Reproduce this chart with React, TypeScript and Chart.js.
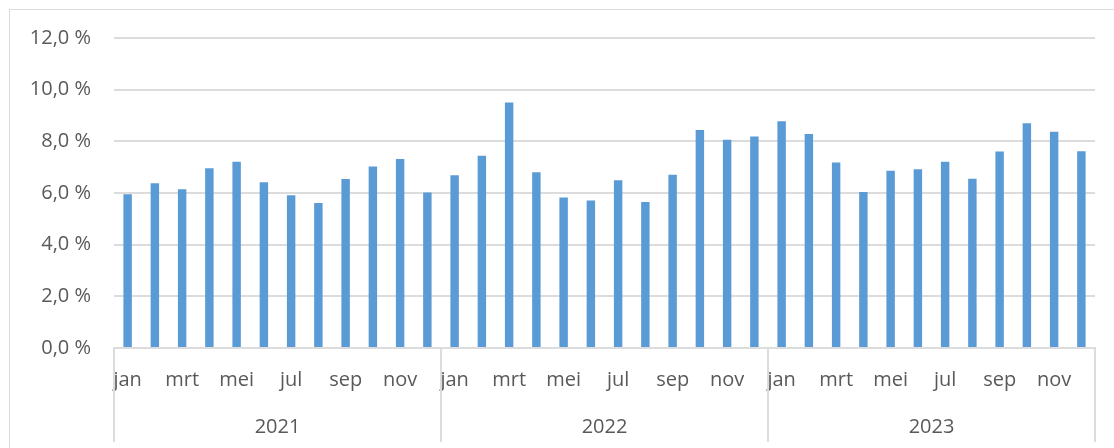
import React, { useEffect, useRef } from "react";
import { Chart, registerables } from "chart.js";

Chart.register(...registerables);

const monthNames = ["jan", "feb", "mrt", "apr", "mei", "jun", "jul", "aug", "sep", "okt", "nov", "dec"];
const years = ["2021", "2022", "2023"];
const values2021 = [5.95, 6.38, 6.15, 6.96, 7.21, 6.42, 5.91, 5.61, 6.54, 7.03, 7.32, 6.02];
const values2022 = [6.69, 7.44, 9.5, 6.8, 5.83, 5.71, 6.49, 5.65, 6.71, 8.44, 8.06, 8.19];
const values2023 = [8.78, 8.28, 7.18, 6.04, 6.86, 6.92, 7.21, 6.55, 7.61, 8.7, 8.37, 7.62];
const yTicks = [0, 2, 4, 6, 8, 10, 12];

const labels = years.flatMap(() => monthNames);
const values = [...values2021, ...values2022, ...values2023];

const GRID = "#DCDCDC";
const TEXT = "#595959";
const FONT = "'Open Sans', 'DejaVu Sans', sans-serif";

const yearPlugin = {
  id: "yearGroups",
  afterDraw(chart: any) {
    const x = chart.scales.x;
    const ctx = chart.ctx;
    const top = x.top;
    const bottom = 442;
    const n = monthNames.length;
    ctx.save();
    ctx.strokeStyle = GRID;
    ctx.lineWidth = 2;
    const bounds: number[] = [];
    for (let g = 0; g <= years.length; g++) {
      let px: number;
      if (g === 0) px = x.left;
      else if (g === years.length) px = x.right;
      else px = (x.getPixelForValue(g * n - 1) + x.getPixelForValue(g * n)) / 2;
      bounds.push(px);
      const xx = Math.round(px);
      ctx.beginPath();
      ctx.moveTo(xx, top);
      ctx.lineTo(xx, bottom);
      ctx.stroke();
    }
    ctx.fillStyle = TEXT;
    ctx.font = `20px ${FONT}`;
    ctx.textAlign = "center";
    ctx.textBaseline = "middle";
    years.forEach((yr, i) => {
      ctx.fillText(yr, (bounds[i] + bounds[i + 1]) / 2, 427);
    });
    ctx.restore();
  },
};

export default function App() {
  const ref = useRef<HTMLCanvasElement>(null);
  useEffect(() => {
    if (!ref.current) return;
    const chart = new Chart(ref.current, {
      type: "bar",
      data: {
        labels,
        datasets: [
          {
            data: values,
            backgroundColor: "#5B9BD5",
            borderWidth: 0,
            barPercentage: 0.31,
            categoryPercentage: 1,
          },
        ],
      },
      options: {
        responsive: false,
        animation: false,
        maintainAspectRatio: false,
        layout: { padding: { top: 38, right: 19, left: 0, bottom: 0 } },
        plugins: { legend: { display: false }, tooltip: { enabled: false } },
        scales: {
          x: {
            grid: { display: false, drawTicks: false },
            border: { display: true, color: GRID, width: 2, z: 1 },
            ticks: {
              autoSkip: false,
              maxRotation: 0,
              minRotation: 0,
              padding: 20,
              color: TEXT,
              font: { family: FONT, size: 20 },
              callback: (_v: any, i: number) => (i % 2 === 0 ? labels[i] : ""),
            },
            afterFit: (s: any) => {
              s.height = 100;
            },
          },
          y: {
            min: 0,
            max: 12,
            afterBuildTicks: (s: any) => {
              s.ticks = yTicks.map((v) => ({ value: v }));
            },
            grid: { color: GRID, lineWidth: 2, drawTicks: false },
            border: { display: false },
            ticks: {
              padding: 23,
              color: TEXT,
              font: { family: FONT, size: 20 },
              callback: (v: any) => Number(v).toFixed(1).replace(".", ",") + " %",
            },
            afterFit: (s: any) => {
              s.width = 114;
            },
          },
        },
      },
      plugins: [yearPlugin],
    });
    return () => chart.destroy();
  }, []);
  return (
    <div style={{ position: "absolute", left: 0, top: 0, width: 1114, height: 448, overflow: "hidden", background: "#fff" }}>
      <canvas ref={ref} width={1114} height={448} style={{ position: "absolute", left: 0, top: 0 }} />
      <div
        style={{
          position: "absolute",
          left: 9,
          top: 9,
          width: 1200,
          height: 500,
          borderLeft: `1px solid ${GRID}`,
          borderTop: `1px solid ${GRID}`,
          pointerEvents: "none",
        }}
      />
    </div>
  );
}
